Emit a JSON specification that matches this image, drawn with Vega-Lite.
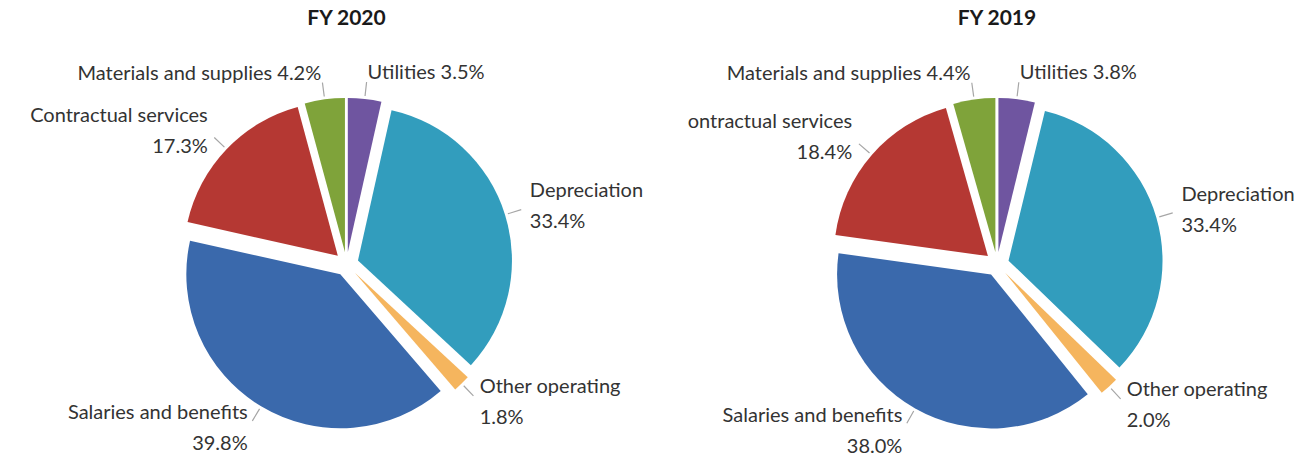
{
  "$schema": "https://vega.github.io/schema/vega-lite/v6.json",
  "padding": {"top": 8, "left": 0, "right": 0, "bottom": 0},
  "spacing": 0,
  "bounds": "flush",
  "config": {
    "view": {"stroke": null},
    "font": "Lato",
    "title": {"fontSize": 21, "fontWeight": "bold", "color": "#1a1a1a", "font": "Lato", "offset": 34}
  },
  "datasets": {
    "costs": [
      {"year": "FY 2020", "category": "Utilities", "share": 3.5, "label": "Utilities 3.5%"},
      {"year": "FY 2020", "category": "Depreciation", "share": 33.4, "label": "Depreciation\n33.4%"},
      {"year": "FY 2020", "category": "Other operating", "share": 1.8, "label": "Other operating\n1.8%"},
      {"year": "FY 2020", "category": "Salaries and benefits", "share": 39.8, "label": "Salaries and benefits\n39.8%"},
      {"year": "FY 2020", "category": "Contractual services", "share": 17.3, "label": "Contractual services\n17.3%"},
      {"year": "FY 2020", "category": "Materials and supplies", "share": 4.2, "label": "Materials and supplies 4.2%"},
      {"year": "FY 2019", "category": "Utilities", "share": 3.8, "label": "Utilities 3.8%"},
      {"year": "FY 2019", "category": "Depreciation", "share": 33.4, "label": "Depreciation\n33.4%"},
      {"year": "FY 2019", "category": "Other operating", "share": 2.0, "label": "Other operating\n2.0%"},
      {"year": "FY 2019", "category": "Salaries and benefits", "share": 38.0, "label": "Salaries and benefits\n38.0%"},
      {"year": "FY 2019", "category": "Contractual services", "share": 18.4, "label": "ontractual services\n18.4%"},
      {"year": "FY 2019", "category": "Materials and supplies", "share": 4.4, "label": "Materials and supplies 4.4%"}
    ]
  },
  "hconcat": [
    {
      "title": "FY 2020",
      "width": 693,
      "height": 398,
      "data": {"name": "costs"},
      "transform": [
        {"filter": "datum.year == 'FY 2020'"},
        {"window": [{"op": "row_number", "as": "rank"}]}
      ],
      "encoding": {
        "theta": {"field": "share", "type": "quantitative", "stack": true},
        "order": {"field": "rank", "type": "quantitative"}
      },
      "layer": [
        {
          "mark": {
            "type": "arc",
            "outerRadius": 154,
            "xOffset": {"expr": "12*sin(PI*(datum.share_start+datum.share_end)/100)"},
            "yOffset": {"expr": "-12*cos(PI*(datum.share_start+datum.share_end)/100)"}
          },
          "encoding": {
            "color": {
              "field": "category",
              "type": "nominal",
              "legend": null,
              "scale": {
                "domain": ["Utilities", "Depreciation", "Other operating", "Salaries and benefits", "Contractual services", "Materials and supplies"],
                "range": ["#6F55A0", "#329DBD", "#F5B55E", "#3A69AC", "#B53833", "#7FA33A"]
              }
            }
          }
        },
        {
          "mark": {
            "type": "arc",
            "innerRadius": 169,
            "outerRadius": 183,
            "padAngle": 3,
            "fill": "transparent",
            "stroke": "#A6A6A6",
            "strokeWidth": 1.2
          },
          "encoding": {}
        },
        {
          "mark": {
            "type": "text",
            "radius": 192,
            "fontSize": 20,
            "lineHeight": 31,
            "lineBreak": "\n",
            "baseline": "middle",
            "color": "#333333",
            "dy": {"expr": "indexof(datum.label, '\\n') >= 0 ? -15.5 : 0"},
            "align": {"expr": "(datum.share_start+datum.share_end)/2 < 50 ? 'left' : 'right'"}
          },
          "encoding": {"text": {"field": "label", "type": "nominal"}}
        }
      ]
    },
    {
      "title": "FY 2019",
      "width": 608,
      "height": 398,
      "data": {"name": "costs"},
      "transform": [
        {"filter": "datum.year == 'FY 2019'"},
        {"window": [{"op": "row_number", "as": "rank"}]}
      ],
      "encoding": {
        "theta": {"field": "share", "type": "quantitative", "stack": true},
        "order": {"field": "rank", "type": "quantitative"}
      },
      "layer": [
        {
          "mark": {
            "type": "arc",
            "outerRadius": 154,
            "xOffset": {"expr": "12*sin(PI*(datum.share_start+datum.share_end)/100)"},
            "yOffset": {"expr": "-12*cos(PI*(datum.share_start+datum.share_end)/100)"}
          },
          "encoding": {
            "color": {
              "field": "category",
              "type": "nominal",
              "legend": null,
              "scale": {
                "domain": ["Utilities", "Depreciation", "Other operating", "Salaries and benefits", "Contractual services", "Materials and supplies"],
                "range": ["#6F55A0", "#329DBD", "#F5B55E", "#3A69AC", "#B53833", "#7FA33A"]
              }
            }
          }
        },
        {
          "mark": {
            "type": "arc",
            "innerRadius": 169,
            "outerRadius": 183,
            "padAngle": 3,
            "fill": "transparent",
            "stroke": "#A6A6A6",
            "strokeWidth": 1.2
          },
          "encoding": {}
        },
        {
          "mark": {
            "type": "text",
            "radius": 192,
            "fontSize": 20,
            "lineHeight": 31,
            "lineBreak": "\n",
            "baseline": "middle",
            "color": "#333333",
            "dy": {"expr": "indexof(datum.label, '\\n') >= 0 ? -15.5 : 0"},
            "align": {"expr": "(datum.share_start+datum.share_end)/2 < 50 ? 'left' : 'right'"}
          },
          "encoding": {"text": {"field": "label", "type": "nominal"}}
        }
      ]
    }
  ]
}
